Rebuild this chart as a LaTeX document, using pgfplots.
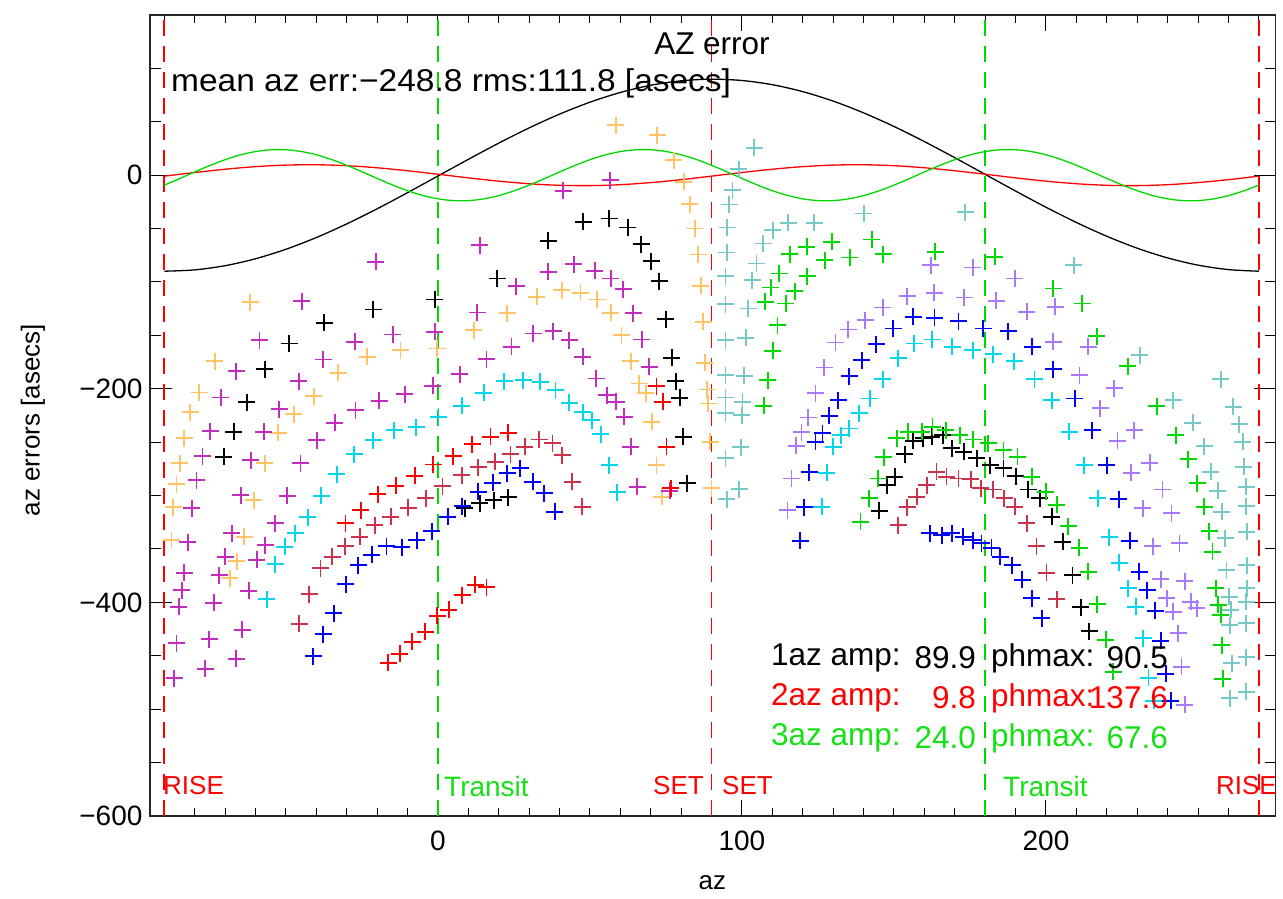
\documentclass[border=0pt]{standalone}
\usepackage{pgfplots}
\pgfplotsset{compat=1.18}
\usepackage{fontspec}
\setmainfont{Liberation Sans}
\newcommand{\fs}[1]{\fontsize{#1}{#1}\selectfont}
\definecolor{corange}{RGB}{255,195,100}
\definecolor{cmag}{RGB}{195,45,190}
\definecolor{ccyan}{RGB}{0,215,235}
\definecolor{cred}{RGB}{255,0,0}
\definecolor{ccrim}{RGB}{205,50,75}
\definecolor{cblue}{RGB}{0,0,250}
\definecolor{cgreen}{RGB}{0,215,0}
\definecolor{clav}{RGB}{170,120,250}
\definecolor{cteal}{RGB}{120,200,200}
\definecolor{tgreen}{RGB}{20,225,20}
\begin{document}
\begin{tikzpicture}
\path[use as bounding box] (0pt,0pt) rectangle (1283pt,899pt);
\begin{axis}[at={(150pt,83pt)}, anchor=south west, scale only axis,
  width=1125.5pt, height=801pt,
  xmin=-94.7, xmax=275.5, ymin=-600, ymax=150, clip=false,
  xtick={0,100,200}, xticklabels={0,100,200},
  minor xtick={-90,-80,...,270},
  ytick={-600,-400,-200,0}, yticklabels={−600,−400,−200,0},
  minor ytick={-550,-500,...,150},
  major tick length=16pt, minor tick length=8pt,
  y tick style={/pgfplots/major tick length=22pt, /pgfplots/minor tick length=11pt},
  tick style={black, line width=1pt},
  axis line style={line width=1.2pt, black!85},
  tick label style={font=\fs{28}},
  xticklabel style={yshift=-11pt},
  yticklabel style={xshift=-4pt},
  /pgf/number format/assume math mode=true,
  xlabel={az}, ylabel={az errors [asecs]},
  label style={font=\fs{26}},
  xlabel style={at={(axis description cs:0.4996,-0.0836)}, anchor=center},
  ylabel style={at={(axis description cs:-0.104,0.494)}, anchor=center},
  every axis plot/.append style={line width=1.3pt},
  vl/.style={draw=#1, line width=1.8pt, dash pattern=on 16pt off 10pt},
  mk/.style={only marks, mark=+, mark size=8.5pt, mark options={solid, line width=1.8pt}, color=#1},
]
% vertical markers
\addplot[vl=cred] coordinates {(-90,-600) (-90,150)};
\addplot[vl=cred] coordinates {(90,-600) (90,150)};
\addplot[vl=cred] coordinates {(270,-600) (270,150)};
\addplot[vl=cgreen] coordinates {(0,-600) (0,150)};
\addplot[vl=cgreen] coordinates {(180,-600) (180,150)};

% data points
\addplot[mk=corange] coordinates {
(-61.8,-118.9) (-73.4,-174.1) (-78.5,-203.4) (-81.5,-222.1) (-83.5,-246.4) (-84.9,-269.8) (-86.0,-289.2) (-87.1,-311.0) (-87.6,-341.6)
(-0.2,-162.2) (-12.3,-163.8) (-23.3,-170.1) (-32.8,-185.0) (-40.8,-206.8) (-47.4,-223.7) (-52.5,-241.2) (-56.9,-269.8) (-60.5,-304.2) (-63.7,-338.5) (-66.2,-361.3) (-68.4,-377.4)
(32.5,-113.9) (40.7,-107.6) (46.9,-110.2) (22.8,-129.4) (11.8,-145.1)
(58.5,46.8) (72.1,37.4) (77.6,14.0) (80.9,-6.3) (82.9,-27.1) (84.5,-49.9) (85.6,-74.2) (86.4,-103.6) (87.3,-137.3) (87.8,-175.7) (88.6,-200.6) (88.9,-213.7) (89.5,-249.6) (90.0,-293.2)
(52.4,-116.3) (56.8,-128.9) (60.4,-149.7) (63.5,-174.1) (66.2,-195.0) (68.4,-204.3) (70.3,-230.9) (71.9,-271.4) (73.6,-301.1)
};
\addplot[mk=cmag] coordinates {
(-20.4,-81.1) (-44.8,-117.9) (-58.7,-154.4) (-66.4,-183.4) (-71.4,-208.1) (-74.9,-239.6) (-77.4,-263.0) (-79.4,-285.5) (-81.0,-311.9) (-82.3,-343.8) (-83.5,-372.2) (-84.3,-388.4) (-85.2,-404.0) (-86.0,-438.3) (-86.7,-471.0)
(-14.9,-149.1) (-27.3,-156.0) (-37.7,-172.5) (-45.8,-192.8) (-52.2,-219.0) (-57.3,-240.2) (-61.5,-266.7) (-64.9,-299.5) (-67.8,-335.3) (-70.0,-357.2) (-71.9,-374.4) (-73.7,-400.3) (-75.2,-434.5) (-76.6,-462.3)
(-1.0,-146.7) (-1.7,-197.2) (-10.9,-205.0) (-19.3,-211.2) (-27.1,-219.9) (-33.9,-231.8) (-39.9,-248.0) (-45.2,-269.8) (-49.6,-300.1) (-53.5,-326.0) (-56.8,-346.3) (-59.6,-360.3) (-62.2,-389.0) (-64.4,-425.8) (-66.3,-453.0)
(41.2,-14.7) (13.8,-65.5) (44.7,-83.3) (36.3,-90.5) (25.7,-103.9) (12.9,-128.5) (31.3,-148.2) (37.9,-146.0) (43.2,-154.4) (24.2,-160.7) (16.0,-172.2) (47.6,-170.1) (7.2,-186.2)
(56.6,-4.7) (51.6,-89.6) (56.8,-96.7) (61.0,-106.7) (64.2,-129.4) (67.0,-153.8) (69.5,-179.4) (52.0,-190.3) (55.5,-205.9) (58.6,-212.2) (61.3,-226.2) (63.5,-254.3) (65.6,-291.7) (76.3,-295.5)
};
\addplot[mk=black] coordinates {
(-1.0,-116.3) (-21.3,-125.7) (-37.4,-138.2) (-48.9,-157.5) (-57.0,-181.8) (-62.8,-212.5) (-67.1,-240.2) (-70.4,-263.6)
(47.8,-43.7) (36.3,-61.5) (19.5,-96.7)
(8.9,-311.9) (13.8,-307.3) (18.4,-304.2) (23.1,-301.6)
(56.3,-40.5) (62.4,-48.9) (66.8,-64.6) (70.1,-80.5) (72.8,-99.2) (75.0,-134.8) (76.9,-171.0) (78.2,-192.8) (79.6,-208.4) (80.7,-244.9) (82.0,-288.5)
(153.6,-261.1) (156.3,-248.7) (159.6,-246.4) (162.4,-244.9) (166.0,-243.3) (169.0,-255.8) (173.0,-259.0) (177.2,-265.1) (181.6,-271.4) (186.0,-274.5) (190.1,-281.7) (194.2,-294.2) (198.0,-302.6) (201.9,-319.8) (150.3,-282.4) (147.8,-290.1) (145.1,-314.2)
(205.5,-343.2) (208.7,-374.4) (211.5,-404.6) (214.2,-426.8)
};
\addplot[mk=ccyan] coordinates {
(0.2,-226.2) (-7.2,-236.1) (-14.4,-238.7) (-21.3,-248.0) (-27.6,-261.4) (-33.3,-280.1) (-38.4,-300.1) (-42.8,-320.4) (-46.9,-335.3) (-50.4,-347.9) (-53.5,-364.3) (-56.3,-397.1)
(21.8,-192.8) (28.1,-191.9) (33.6,-193.4) (38.7,-201.2) (43.2,-213.1) (47.6,-222.1) (15.1,-203.7) (7.8,-215.9) (50.6,-229.3) (53.6,-242.7) (56.3,-271.4) (59.0,-297.0)
(146.3,-191.2) (142.1,-209.0) (138.5,-223.0) (135.3,-237.1) (132.5,-243.3) (130.0,-254.3) (127.9,-278.6) (126.2,-310.4)
(156.7,-157.5) (162.6,-153.8) (169.2,-160.7) (175.9,-163.8) (182.7,-167.5) (189.6,-174.1) (196.2,-191.2) (201.9,-210.6) (151.4,-171.5)
(207.7,-240.2) (212.6,-271.4) (217.0,-302.6) (220.8,-339.1) (224.1,-362.8) (227.1,-386.8) (229.6,-404.0) (232.0,-433.6) (233.7,-470.5) (235.5,-492.0)
};
\addplot[mk=cred] coordinates {
(-1.5,-270.8) (-7.6,-281.4) (-13.8,-290.8) (-19.8,-298.6) (-25.3,-313.5) (-30.4,-326.0)
(23.1,-241.2) (17.3,-244.9) (11.3,-252.0) (5.0,-263.0)
(-0.2,-412.7) (-4.2,-427.4) (-8.5,-436.8) (-12.5,-448.3) (-16.3,-456.4) (3.6,-407.1) (12.2,-383.7) (16.0,-385.9) (8.0,-393.1)
(71.9,-197.5) (73.9,-212.2) (75.2,-254.3) (76.6,-293.2)
};
\addplot[mk=ccrim] coordinates {
(1.5,-291.1) (-4.0,-302.6) (-9.8,-311.4) (-15.5,-319.8) (-20.7,-327.6) (-25.7,-338.5) (-30.5,-347.2) (-34.8,-357.2) (-38.6,-368.1) (-42.3,-392.4) (-45.6,-420.2)
(33.3,-247.4) (37.7,-251.1) (28.6,-254.3) (23.9,-261.1) (18.8,-268.3) (13.3,-273.6) (7.8,-280.8) (40.9,-262.1) (44.2,-287.0) (47.5,-310.4)
(151.4,-327.6) (154.4,-311.0) (157.5,-301.1) (160.8,-290.1) (164.0,-277.7) (167.3,-282.4) (171.2,-283.9) (175.3,-284.8) (178.5,-293.2) (182.7,-294.2) (186.3,-302.6) (189.8,-310.4) (193.7,-326.0) (196.9,-347.2) (200.2,-372.2) (203.5,-397.1)
};
\addplot[mk=cblue] coordinates {
(3.2,-319.8) (-2.0,-333.2) (-7.0,-341.6) (-11.9,-348.4) (-16.9,-347.2) (-21.8,-355.6) (-26.2,-365.0) (-30.3,-382.8) (-34.2,-410.2) (-37.7,-429.9) (-41.0,-450.2)
(27.0,-274.5) (22.8,-279.2) (18.0,-288.0) (13.3,-296.4) (31.2,-287.0) (35.0,-297.9) (38.5,-315.1) (8.0,-309.8)
(144.1,-158.4) (139.4,-173.1) (135.3,-188.1) (131.7,-210.6) (128.7,-225.3) (126.5,-241.7) (124.2,-249.6) (122.1,-278.2) (120.5,-311.0) (119.1,-342.3)
(156.3,-132.6) (163.3,-133.6) (171.2,-136.6) (179.4,-143.5) (187.6,-146.0) (195.5,-160.7) (202.4,-181.8) (149.8,-143.5)
(161.8,-335.3) (165.7,-336.9) (169.0,-335.3) (172.8,-338.5) (175.9,-341.6) (178.8,-344.7) (182.1,-348.8) (184.9,-357.2) (188.9,-365.0) (192.2,-379.0) (195.3,-396.2) (198.6,-414.9)
(209.5,-209.0) (215.2,-238.7) (220.0,-271.4) (224.0,-303.5) (227.6,-342.3) (230.7,-371.3) (233.3,-388.4) (235.9,-407.8) (237.8,-435.9) (239.4,-467.0) (241.0,-492.0)
};
\addplot[mk=cgreen] coordinates {
(129.5,-62.4) (121.3,-67.1) (115.8,-73.9) (127.3,-79.6) (135.5,-77.0) (142.7,-60.2) (146.5,-73.9) (112.3,-92.0) (121.5,-94.5) (109.5,-105.1) (117.4,-108.6) (107.7,-118.6) (114.4,-120.1) (111.7,-140.4) (110.1,-164.4) (108.5,-191.9) (107.2,-215.9)
(146.7,-264.2) (144.8,-283.9) (141.9,-302.6) (139.0,-324.5)
(183.2,-76.5) (163.5,-71.8) (202.4,-106.0)
(150.9,-246.4) (154.7,-240.2) (159.1,-240.2) (162.7,-235.6) (167.0,-238.7) (171.7,-243.3) (176.1,-247.4) (181.0,-251.1) (186.0,-257.4) (190.6,-263.6) (195.3,-282.4) (199.9,-296.4) (203.5,-308.8)
(211.9,-120.1) (216.7,-150.7) (226.9,-178.8) (236.4,-216.2) (242.7,-243.3) (246.8,-266.1) (249.8,-288.5) (252.0,-310.4) (253.7,-333.2) (254.8,-352.6) (255.9,-386.8) (256.7,-402.4) (257.5,-411.8) (257.8,-439.9) (258.1,-471.7)
(207.3,-328.5) (210.9,-348.8) (213.9,-371.3) (216.9,-401.8) (219.7,-435.2) (222.1,-464.9)
};
\addplot[mk=clav] coordinates {
(146.3,-123.8) (140.5,-135.7) (135.0,-144.4) (130.8,-156.6) (127.1,-180.0) (124.2,-204.3) (121.8,-226.8) (119.6,-240.8) (117.8,-253.3) (116.3,-283.9) (115.0,-313.5)
(162.1,-84.2) (175.9,-86.4) (189.8,-96.7) (154.4,-113.2) (163.2,-110.2) (173.1,-114.5) (183.6,-117.6) (193.7,-127.9) (203.0,-123.3) (202.4,-156.0)
(213.9,-160.7) (211.0,-187.2) (222.5,-199.6) (217.8,-218.3) (229.0,-238.7) (223.5,-248.7) (234.2,-269.3) (228.0,-278.6) (238.3,-294.2) (231.8,-311.9) (241.3,-316.6) (235.1,-347.2) (243.9,-344.7) (237.8,-378.4) (245.7,-380.0) (239.7,-396.2) (247.6,-399.3) (241.9,-408.7) (249.6,-405.5) (243.5,-428.9) (244.6,-460.2) (245.7,-496.0)
};
\addplot[mk=cteal] coordinates {
(104.0,25.6) (99.0,5.6) (96.9,-14.0) (95.8,-27.4) (95.2,-48.9) (95.0,-72.3) (94.6,-94.5) (94.6,-120.7) (94.6,-154.4) (94.6,-187.2) (94.6,-208.1) (94.6,-223.0) (94.6,-265.1) (95.0,-303.2)
(110.1,-51.5) (107.0,-63.9) (104.8,-82.6) (103.4,-98.3) (102.1,-124.8) (101.3,-152.3) (100.7,-187.8) (100.2,-212.2) (99.9,-224.6) (99.6,-254.8) (99.1,-293.9)
(115.2,-44.6) (123.7,-44.6) (140.1,-35.8) (173.4,-34.6)
(209.2,-84.2) (230.9,-168.5) (257.5,-191.2) (241.9,-210.6) (261.6,-216.8) (248.3,-231.8) (263.6,-233.3) (252.0,-253.6) (264.7,-249.6) (254.2,-277.7) (265.1,-273.0) (256.5,-295.5) (265.8,-291.7) (257.8,-315.1) (265.8,-309.8) (258.9,-340.0) (266.0,-333.8) (259.4,-369.7) (266.0,-365.0) (260.3,-394.7) (266.0,-386.8) (260.8,-407.1) (265.8,-399.3) (260.5,-421.2) (265.8,-419.6) (261.1,-457.0) (265.8,-451.4) (260.5,-489.8) (265.8,-483.6)
};

% fitted harmonics
\addplot[black, smooth] coordinates {
(-90,-89.90) (-80,-88.67) (-70,-84.74) (-60,-78.25) (-50,-69.37) (-40,-58.39) (-30,-45.63) (-20,-31.48) (-10,-16.38) (0,-0.78)
(10,14.84) (20,30.01) (30,44.27) (40,57.18) (50,68.36) (60,77.46) (70,84.21) (80,88.39) (90,89.90)
(100,88.67) (110,84.74) (120,78.25) (130,69.37) (140,58.39) (150,45.63) (160,31.48) (170,16.38) (180,0.78)
(190,-14.84) (200,-30.01) (210,-44.27) (220,-57.18) (230,-68.36) (240,-77.46) (250,-84.21) (260,-88.39) (270,-89.90)
};
\addplot[cred, smooth] coordinates {
(-90,-0.89) (-80,2.50) (-70,5.59) (-60,8.01) (-50,9.46) (-40,9.77) (-30,8.90) (-20,6.95) (-10,4.17) (0,0.89)
(10,-2.50) (20,-5.59) (30,-8.01) (40,-9.46) (50,-9.77) (60,-8.90) (70,-6.95) (80,-4.17) (90,-0.89)
(100,2.50) (110,5.59) (120,8.01) (130,9.46) (140,9.77) (150,8.90) (160,6.95) (170,4.17) (180,0.89)
(190,-2.50) (200,-5.59) (210,-8.01) (220,-9.46) (230,-9.77) (240,-8.90) (250,-6.95) (260,-4.17) (270,-0.89)
};
\addplot[cgreen, smooth] coordinates {
(-90,-9.30) (-85,-3.26) (-80,3.01) (-75,9.07) (-70,14.51) (-65,18.97) (-60,22.13) (-55,23.78) (-50,23.81) (-45,22.22) (-40,19.12) (-35,14.71)
(-30,9.30) (-25,3.26) (-20,-3.01) (-15,-9.07) (-10,-14.51) (-5,-18.97) (0,-22.13) (5,-23.78) (10,-23.81) (15,-22.22) (20,-19.12) (25,-14.71)
(30,-9.30) (35,-3.26) (40,3.01) (45,9.07) (50,14.51) (55,18.97) (60,22.13) (65,23.78) (70,23.81) (75,22.22) (80,19.12) (85,14.71)
(90,9.30) (95,3.26) (100,-3.01) (105,-9.07) (110,-14.51) (115,-18.97) (120,-22.13) (125,-23.78) (130,-23.81) (135,-22.22) (140,-19.12) (145,-14.71)
(150,-9.30) (155,-3.26) (160,3.01) (165,9.07) (170,14.51) (175,18.97) (180,22.13) (185,23.78) (190,23.81) (195,22.22) (200,19.12) (205,14.71)
(210,9.30) (215,3.26) (220,-3.01) (225,-9.07) (230,-14.51) (235,-18.97) (240,-22.13) (245,-23.78) (250,-23.81) (255,-22.22) (260,-19.12) (265,-14.71)
(270,-9.30)
};
\end{axis}
% texts
\node[anchor=center, inner sep=0pt, font=\fs{31.5}] at (712pt,855pt) {AZ error};
\node[anchor=west, inner sep=0pt, font=\fs{31.5}] at (171pt,816pt) {\scalebox{1.063}[1]{mean az err:−248.8 rms:111.8 [asecs]}};
\begin{scope}[every node/.style={inner sep=0pt, font=\fs{31.5}}]
\node[anchor=west, text=black] at (771pt,241pt) {1az amp:};
\node[anchor=east, text=black] at (976pt,241pt) {89.9};
\node[anchor=west, text=black] at (991pt,241pt) {phmax:};
\node[anchor=east, text=black] at (1168pt,241pt) {90.5};
\node[anchor=west, text=cred] at (771pt,201pt) {2az amp:};
\node[anchor=east, text=cred] at (976pt,201pt) {9.8};
\node[anchor=west, text=cred] at (991pt,201pt) {phmax:};
\node[anchor=east, text=cred] at (1168pt,201pt) {137.6};
\node[anchor=west, text=tgreen] at (771pt,161pt) {3az amp:};
\node[anchor=east, text=tgreen] at (976pt,161pt) {24.0};
\node[anchor=west, text=tgreen] at (991pt,161pt) {phmax:};
\node[anchor=east, text=tgreen] at (1168pt,161pt) {67.6};
\end{scope}
\begin{scope}[every node/.style={inner sep=0pt}]
\node[anchor=west, text=cred, font=\fs{26}] at (163pt,113pt) {RISE};
\node[anchor=west, text=tgreen, font=\fs{28}] at (444pt,113pt) {Transit};
\node[anchor=east, text=cred, font=\fs{26}] at (704pt,113pt) {SET};
\node[anchor=west, text=cred, font=\fs{26}] at (722pt,113pt) {SET};
\node[anchor=west, text=tgreen, font=\fs{28}] at (1003pt,113pt) {Transit};
\node[anchor=east, text=cred, font=\fs{26}] at (1277pt,113pt) {RISE};
\end{scope}
\end{tikzpicture}
\end{document}
